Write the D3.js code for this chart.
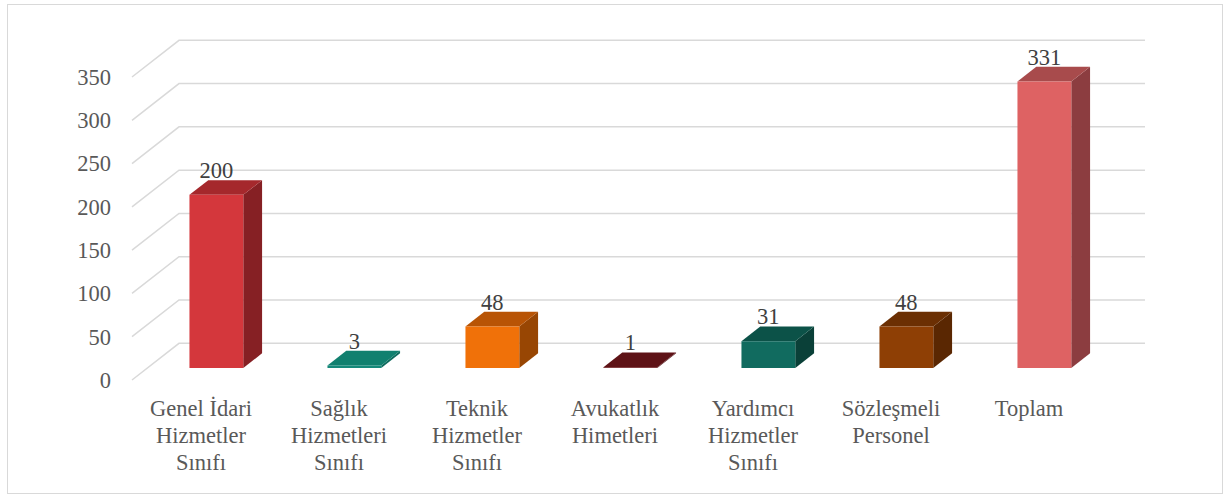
<!DOCTYPE html>
<html>
<head>
<meta charset="utf-8">
<script src="https://cdn.jsdelivr.net/npm/d3@7"></script>
</head>
<body style="margin:0;background:#fff">
<script>
const categories = [
  ['Genel İdari', 'Hizmetler', 'Sınıfı'],
  ['Sağlık', 'Hizmetleri', 'Sınıfı'],
  ['Teknik', 'Hizmetler', 'Sınıfı'],
  ['Avukatlık', 'Himetleri'],
  ['Yardımcı', 'Hizmetler', 'Sınıfı'],
  ['Sözleşmeli', 'Personel'],
  ['Toplam']
];
const values = [200, 3, 48, 1, 31, 48, 331];
const yTicks = [0, 50, 100, 150, 200, 250, 300, 350];

// front, top, side shades
const barColors = [
  ['#d4373c', '#a5282c', '#862024'],
  ['#15897a', '#11806f', '#0e6b5e'],
  ['#f07109', '#b85405', '#984603'],
  ['#6a1418', '#5e1216', '#4e0f12'],
  ['#116b5f', '#0c5248', '#0a4038'],
  ['#8e3f05', '#6b2f03', '#5a2702'],
  ['#de6263', '#a84b4c', '#8c3d40']
];

const width = 1230;
const height = 497;
const floorLeft = 132;
const floorWidth = 966;
const depthX = 47;
const depthY = 36.7;
const barFront = 0.327;
const barBack = 0.727;
const serif = 'Liberation Serif';

const svg = d3.select('body')
  .append('svg')
  .attr('width', width)
  .attr('height', height)
  .style('display', 'block');

// outer border
svg.append('rect')
  .attr('x', 7.5).attr('y', 4.5)
  .attr('width', 1215).attr('height', 489)
  .attr('fill', '#fff')
  .attr('stroke', '#d9d9d9');

const keys = categories.map((c, i) => i);

const x = d3.scaleBand()
  .domain(keys)
  .range([0, floorWidth])
  .paddingInner(0.61)
  .paddingOuter(0.305);

const y = d3.scaleLinear()
  .domain([0, 350])
  .range([380, 77]);

// (u along floor, value, depth 0=front 1=back) -> screen
function proj(u, v, t) {
  return [floorLeft + u + t * depthX, y(v) - t * depthY];
}

const poly = (pts) => 'M' + pts.map((p) => p.join(',')).join('L') + 'Z';

// grid: diagonal on the side wall + line on the back wall
svg.append('g')
  .selectAll('path')
  .data(yTicks)
  .enter()
  .append('path')
  .attr('fill', 'none')
  .attr('stroke', '#d9d9d9')
  .attr('stroke-width', 1.5)
  .attr('d', (v) => {
    const a = proj(0, v, 0), b = proj(0, v, 1), c = proj(floorWidth, v, 1);
    return `M${a}L${b}L${c}`;
  });

svg.append('g')
  .selectAll('text')
  .data(yTicks)
  .enter()
  .append('text')
  .style('font-family', serif, 'important')
  .style('font-size', '22.5px')
  .style('fill', '#595959')
  .attr('x', 111)
  .attr('y', (v) => y(v))
  .attr('dy', '0.35em')
  .attr('text-anchor', 'end')
  .text((v) => v);

// bars
const bars = svg.append('g')
  .selectAll('g')
  .data(values)
  .enter()
  .append('g');

bars.append('path')
  .attr('d', (v, i) => {
    const x1 = x(i) + x.bandwidth();
    return poly([proj(x1, 0, barFront), proj(x1, v, barFront), proj(x1, v, barBack), proj(x1, 0, barBack)]);
  })
  .attr('fill', (v, i) => barColors[i][2]);

bars.append('path')
  .attr('d', (v, i) => {
    const x0 = x(i), x1 = x(i) + x.bandwidth();
    return poly([proj(x0, v, barFront), proj(x1, v, barFront), proj(x1, v, barBack), proj(x0, v, barBack)]);
  })
  .attr('fill', (v, i) => barColors[i][1]);

bars.append('path')
  .attr('d', (v, i) => {
    const x0 = x(i), x1 = x(i) + x.bandwidth();
    return poly([proj(x0, 0, barFront), proj(x0, v, barFront), proj(x1, v, barFront), proj(x1, 0, barFront)]);
  })
  .attr('fill', (v, i) => barColors[i][0]);

// value labels
bars.append('text')
  .style('font-family', serif, 'important')
  .style('font-size', '22.5px')
  .style('fill', '#404040')
  .attr('x', (v, i) => proj(x(i) + x.bandwidth() / 2, v, barFront)[0])
  .attr('y', (v, i) => proj(0, v, barBack)[1] - 2)
  .attr('text-anchor', 'middle')
  .text((v) => v);

// category labels
const cats = svg.append('g')
  .selectAll('text')
  .data(categories)
  .enter()
  .append('text')
  .style('font-family', serif, 'important')
  .style('font-size', '22.5px')
  .style('fill', '#595959')
  .attr('text-anchor', 'middle')
  .attr('x', (c, i) => floorLeft + x(i) + x.bandwidth() / 2)
  .attr('y', 416);

cats.selectAll('tspan')
  .data((c) => c)
  .enter()
  .append('tspan')
  .style('font-family', serif, 'important')
  .attr('x', function () { return d3.select(this.parentNode).attr('x'); })
  .attr('dy', (d, j) => j === 0 ? 0 : 27)
  .text((d) => d);
</script>
</body>
</html>
